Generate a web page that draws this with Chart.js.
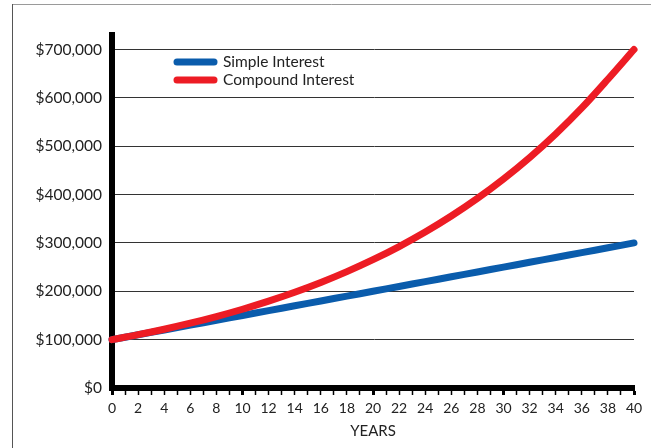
<!DOCTYPE html>
<html>
<head>
<meta charset="utf-8">
<style>
  html, body { margin: 0; padding: 0; background: #fff; }
  #wrap { position: relative; width: 651px; height: 448px; }
  canvas { display: block; }
</style>
<script src="https://cdn.jsdelivr.net/npm/chart.js@4/dist/chart.umd.min.js"></script>
</head>
<body>
<div id="wrap"><canvas id="c" width="651" height="448"></canvas></div>
<script>
// ---- data ----
const years = [0, 2, 4, 6, 8, 10, 12, 14, 16, 18, 20, 22, 24, 26, 28, 30, 32, 34, 36, 38, 40];
const simpleInterest = [100000, 110000, 120000, 130000, 140000, 150000, 160000, 170000, 180000, 190000, 200000,
  210000, 220000, 230000, 240000, 250000, 260000, 270000, 280000, 290000, 300000];
const compoundInterest = [100000, 110250, 121550, 134010, 147750, 162890, 179590, 197990, 218290, 240660, 265330,
  292530, 322510, 355570, 392010, 432190, 476490, 525340, 579180, 638550, 700000];
const seriesLabels = ['Simple Interest', 'Compound Interest'];
const seriesColors = ['#0a5cac', '#ed1c24'];
const yTickValues = [0, 100000, 200000, 300000, 400000, 500000, 600000, 700000];
const xTitle = 'YEARS';

const FONT = 'Lato, "Open Sans", sans-serif';

const pts = arr => years.map((x, i) => ({ x: x, y: arr[i] }));

const framePlugin = {
  id: 'frame',
  beforeDraw(chart) {
    const ctx = chart.ctx;
    ctx.save();
    ctx.strokeStyle = '#9a9a9a';
    ctx.lineWidth = 1;
    ctx.beginPath();
    ctx.moveTo(12.5, 4.5);
    ctx.lineTo(651, 4.5);
    ctx.stroke();
    ctx.strokeStyle = '#555';
    ctx.beginPath();
    ctx.moveTo(12.5, 448);
    ctx.lineTo(12.5, 4);
    ctx.stroke();
    ctx.restore();
  }
};

const legendPlugin = {
  id: 'customLegend',
  afterDraw(chart) {
    const ctx = chart.ctx;
    ctx.save();
    const rows = [62, 80];
    seriesLabels.forEach((lab, i) => {
      const y = rows[i];
      ctx.strokeStyle = seriesColors[i];
      ctx.lineWidth = 7;
      ctx.lineCap = 'round';
      ctx.beginPath();
      ctx.moveTo(177, y);
      ctx.lineTo(214, y);
      ctx.stroke();
      ctx.fillStyle = '#222';
      ctx.font = '15.5px ' + FONT;
      ctx.textBaseline = 'middle';
      ctx.textAlign = 'left';
      ctx.fillText(lab, 223, y);
    });
    ctx.restore();
  }
};

new Chart(document.getElementById('c'), {
  type: 'line',
  data: {
    datasets: [
      {
        label: seriesLabels[0],
        data: pts(simpleInterest),
        borderColor: seriesColors[0],
        borderWidth: 7,
        pointRadius: 0,
        borderCapStyle: 'round',
        tension: 0.3,
        order: 1
      },
      {
        label: seriesLabels[1],
        data: pts(compoundInterest),
        borderColor: seriesColors[1],
        borderWidth: 7,
        pointRadius: 0,
        borderCapStyle: 'round',
        cubicInterpolationMode: 'monotone',
        order: 0
      }
    ]
  },
  options: {
    responsive: false,
    animation: false,
    clip: false,
    layout: { padding: { top: 35, right: 17, left: 0, bottom: 0 } },
    plugins: { legend: { display: false }, tooltip: { enabled: false } },
    scales: {
      x: {
        type: 'linear',
        min: 0,
        max: 40,
        afterFit(scale) { scale.height = 60; },
        ticks: {
          stepSize: 1,
          autoSkip: false,
          maxRotation: 0,
          color: '#222',
          font: { family: FONT, size: 14 },
          padding: 5,
          callback: v => (v % 2 === 0 ? String(v) : '')
        },
        grid: {
          drawOnChartArea: false,
          drawTicks: true,
          tickLength: 7,
          tickColor: '#000',
          tickWidth: ctx => (ctx.tick && ctx.tick.value % 10 === 0 ? 3 : 1.5)
        },
        border: { color: '#000', width: 6 },
        title: {
          display: true,
          text: xTitle,
          color: '#222',
          font: { family: FONT, size: 15 },
          padding: { top: 4, bottom: 8 }
        }
      },
      y: {
        min: 0,
        max: 730000,
        afterFit(scale) { scale.width = 112; },
        afterBuildTicks(scale) {
          scale.ticks = yTickValues.map(v => ({ value: v }));
        },
        ticks: {
          color: '#222',
          font: { family: FONT, size: 15.5 },
          padding: 10,
          callback: v => '$' + Number(v).toLocaleString('en-US')
        },
        grid: {
          color: '#333',
          lineWidth: 1,
          drawTicks: false
        },
        border: { color: '#000', width: 6 }
      }
    }
  },
  plugins: [framePlugin, legendPlugin]
});
</script>
</body>
</html>
